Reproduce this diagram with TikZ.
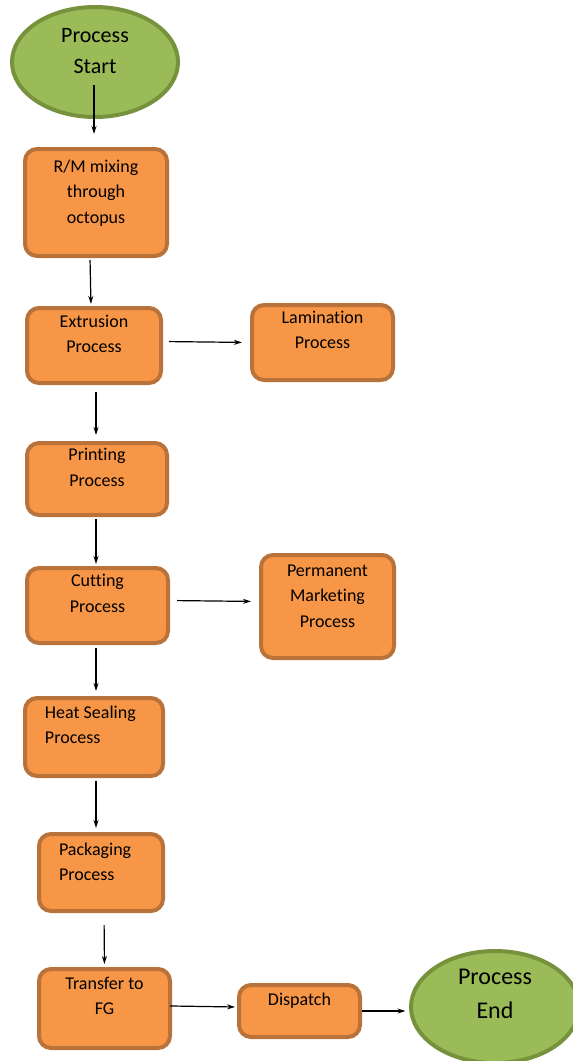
\documentclass[tikz,border=0pt]{standalone}
\usepackage{fontspec}
\setmainfont{Carlito}[Ligatures=NoCommon]
\usetikzlibrary{arrows.meta,shapes.geometric}
\definecolor{boxfill}{HTML}{F79646}
\definecolor{boxline}{HTML}{B9733A}
\definecolor{termfill}{HTML}{9BBB59}
\definecolor{termline}{HTML}{76923C}
% text block of a box: height, width, first baseline, lines
\newcommand{\boxlines}[4]{\parbox[c][#1][t]{#2}{\centering\rule{0pt}{#3}#4}}
\newcommand{\boxlinesl}[4]{\parbox[c][#1][t]{#2}{\raggedright\leftskip=20pt\rule{0pt}{#3}#4}}

\begin{document}
\begin{tikzpicture}[x=1pt, y=-1pt, >={Stealth[length=8pt,width=5pt]},
  box/.style={draw=boxline, fill=boxfill, line width=4pt, rounded corners=12pt, inner sep=0pt, font=\fontsize{18}{25.5}\selectfont},
  term/.style={ellipse, draw=termline, fill=termfill, line width=4pt, inner sep=0pt, minimum width=#1},
  flow/.style={->, line width=1.2pt}]
\useasboundingbox (0,0) rectangle (573,1061);
% terminals
\node (start) [term=166pt, minimum height=110pt, font=\fontsize{22}{31}\selectfont] at (95,62) {\boxlines{76pt}{100pt}{18.3pt}{Process\\Start}};
\node (finish) [term=168pt, minimum height=112pt, font=\fontsize{24}{34}\selectfont] at (495,1007) {\boxlines{76pt}{100pt}{15.5pt}{Process\\End}};
% process steps
\node (rm) [box] at (96,202.5) {\boxlines{107pt}{142pt}{23pt}{R/M mixing\\through\\octopus}};
\node (ext) [box] at (94,345.5) {\boxlines{75pt}{134pt}{19pt}{Extrusion\\Process}};
\node (lam) [box] at (322.5,342.5) {\boxlines{75pt}{141pt}{18.3pt}{Lamination\\Process}};
\node (print) [box] at (97,479) {\boxlines{72pt}{140pt}{17.7pt}{Printing\\Process}};
\node (cut) [box] at (97.5,605.5) {\boxlines{75pt}{141pt}{18.7pt}{Cutting\\Process}};
\node (perm) [box] at (327.5,606.5) {\boxlines{103pt}{133pt}{21pt}{Permanent\\Marketing\\Process}};
\node (heat) [box] at (94,737) {\boxlinesl{78pt}{138pt}{20.3pt}{Heat Sealing\\Process}};
\node (pack) [box] at (101,872.5) {\boxlinesl{77pt}{124pt}{21pt}{Packaging\\Process}};
\node (trans) [box] at (104.5,1008.5) {\boxlines{79pt}{131pt}{20pt}{Transfer to\\FG}};
\node (disp) [box] at (299.5,1011) {\boxlines{52pt}{121pt}{20.7pt}{Dispatch}};
% connectors
\draw[flow, shorten <=-34pt, shorten >=13pt] ([xshift=-1pt]start.south) -- ([xshift=-2pt]rm.north);
\draw[flow, shorten <=2pt, shorten >=2pt] ([xshift=-6pt]rm.south) -- ([xshift=-3pt]ext.north);
\draw[flow, shorten <=6pt, shorten >=8pt] ([yshift=4pt]ext.east) -- (lam.west);
\draw[flow, shorten <=7pt, shorten >=6pt] ([xshift=2pt]ext.south) -- ([xshift=-1pt]print.north);
\draw[flow, shorten <=2pt, shorten >=2pt] ([xshift=-1pt]print.south) -- ([xshift=-1.5pt]cut.north);
\draw[flow, shorten <=7pt, shorten >=8pt] ([yshift=5pt]cut.east) -- ([yshift=5pt]perm.west);
\draw[flow, shorten <=3pt, shorten >=5pt] ([xshift=-1.5pt]cut.south) -- ([xshift=2pt]heat.north);
\draw[flow, shorten <=3pt, shorten >=4pt] ([xshift=2pt]heat.south) -- ([xshift=-5pt]pack.north);
\draw[flow, shorten <=12pt, shorten >=3pt] ([xshift=3pt]pack.south) -- (trans.north);
\draw[flow, shorten <=-2pt, shorten >=2pt] ([yshift=2.5pt]trans.east) -- ([yshift=4pt]disp.west);
\draw[flow, shorten >=3.5pt] (disp.east) -- ([yshift=-4pt]finish.west);
\end{tikzpicture}
\end{document}
